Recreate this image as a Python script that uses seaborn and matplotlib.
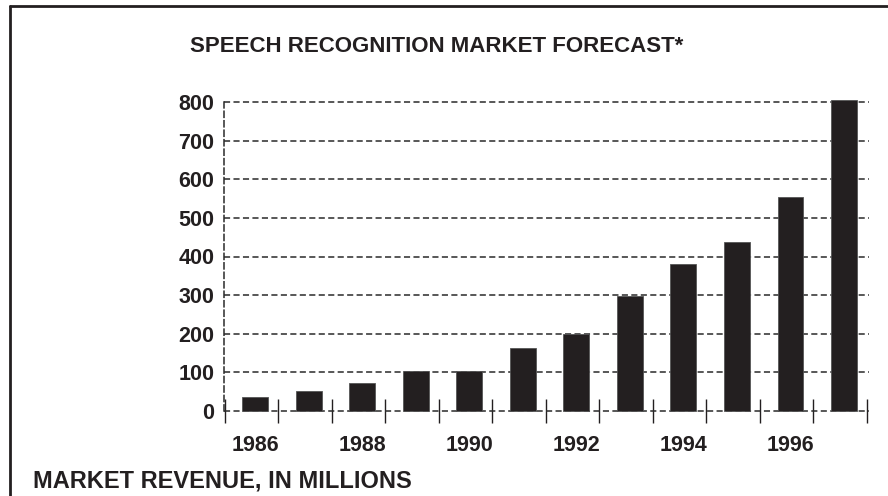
import matplotlib
matplotlib.use("Agg")
import matplotlib.pyplot as plt
import seaborn as sns
import pandas as pd
from matplotlib.lines import Line2D

years = [str(y) for y in range(1986, 1998)]
revenue = [35, 52, 72, 104, 104, 163, 200, 298, 380, 438, 553, 805]
yticks = [0, 100, 200, 300, 400, 500, 600, 700, 800]
title = "SPEECH RECOGNITION MARKET FORECAST*"
ylabel_note = "MARKET REVENUE, IN MILLIONS"

sns.set_style("white")
plt.rcParams['font.family'] = ['Liberation Sans', 'DejaVu Sans']
plt.rcParams['font.weight'] = 'bold'

df = pd.DataFrame({"year": years, "revenue": revenue})

fig = plt.figure(figsize=(8.88, 4.96), dpi=100)
ax = fig.add_axes([224/888, 85/496, 645/888, 309/496])

dark = '#231f20'
sns.barplot(data=df, x="year", y="revenue", color=dark, width=0.48,
            saturation=1, edgecolor='#555555', linewidth=0.6, ax=ax, zorder=3)
for p in ax.patches:
    p.set_clip_on(False)

ax.set_xlim(-0.585, 11.47)
ax.set_ylim(0, 800)

# grid
for v in yticks:
    ax.axhline(v, color='#2a2a2a', lw=1.1, ls=(0, (4, 2.2)), zorder=1, clip_on=False)

for s in ['top', 'right', 'bottom']:
    ax.spines[s].set_visible(False)
ax.spines['left'].set_linestyle((0, (4, 2.2)))
ax.spines['left'].set_color('#2a2a2a')
ax.spines['left'].set_linewidth(1.1)

ax.set_yticks(yticks)
ax.set_yticklabels([str(v) for v in yticks], fontsize=15.5, fontweight='bold', color='#231f20')
ax.tick_params(axis='y', length=0, pad=7)

major = list(range(0, 12, 2))
ax.set_xticks(major)
ax.set_xticklabels([years[i] for i in major], fontsize=15.5, fontweight='bold', color='#231f20')
ax.set_xticks([i - 0.57 for i in range(13)], minor=True)
ax.tick_params(axis='x', which='major', length=0, pad=17, bottom=True)
ax.tick_params(axis='x', which='minor', direction='inout', length=17, width=1.0,
               color='#231f20', bottom=True)
for t in ax.xaxis.get_minorticklines():
    t.set_clip_on(False)

ax.set_xlabel("")
ax.set_ylabel("")

fig.text(437/888, 1 - 47/496, title, ha='center', va='center', fontsize=16,
         fontweight='bold', color='#231f20')
fig.text(33/888, 1 - 481/496, ylabel_note, ha='left', va='center', fontsize=17,
         fontweight='bold', color='#231f20')

# border (top and left)
fig.add_artist(Line2D([10/888, 1.0], [1 - 6/496, 1 - 6/496], transform=fig.transFigure,
                      color=dark, lw=2.0))
fig.add_artist(Line2D([10/888, 10/888], [0, 1 - 6/496], transform=fig.transFigure,
                      color=dark, lw=2.0))

fig.savefig("out.png", dpi=100)
